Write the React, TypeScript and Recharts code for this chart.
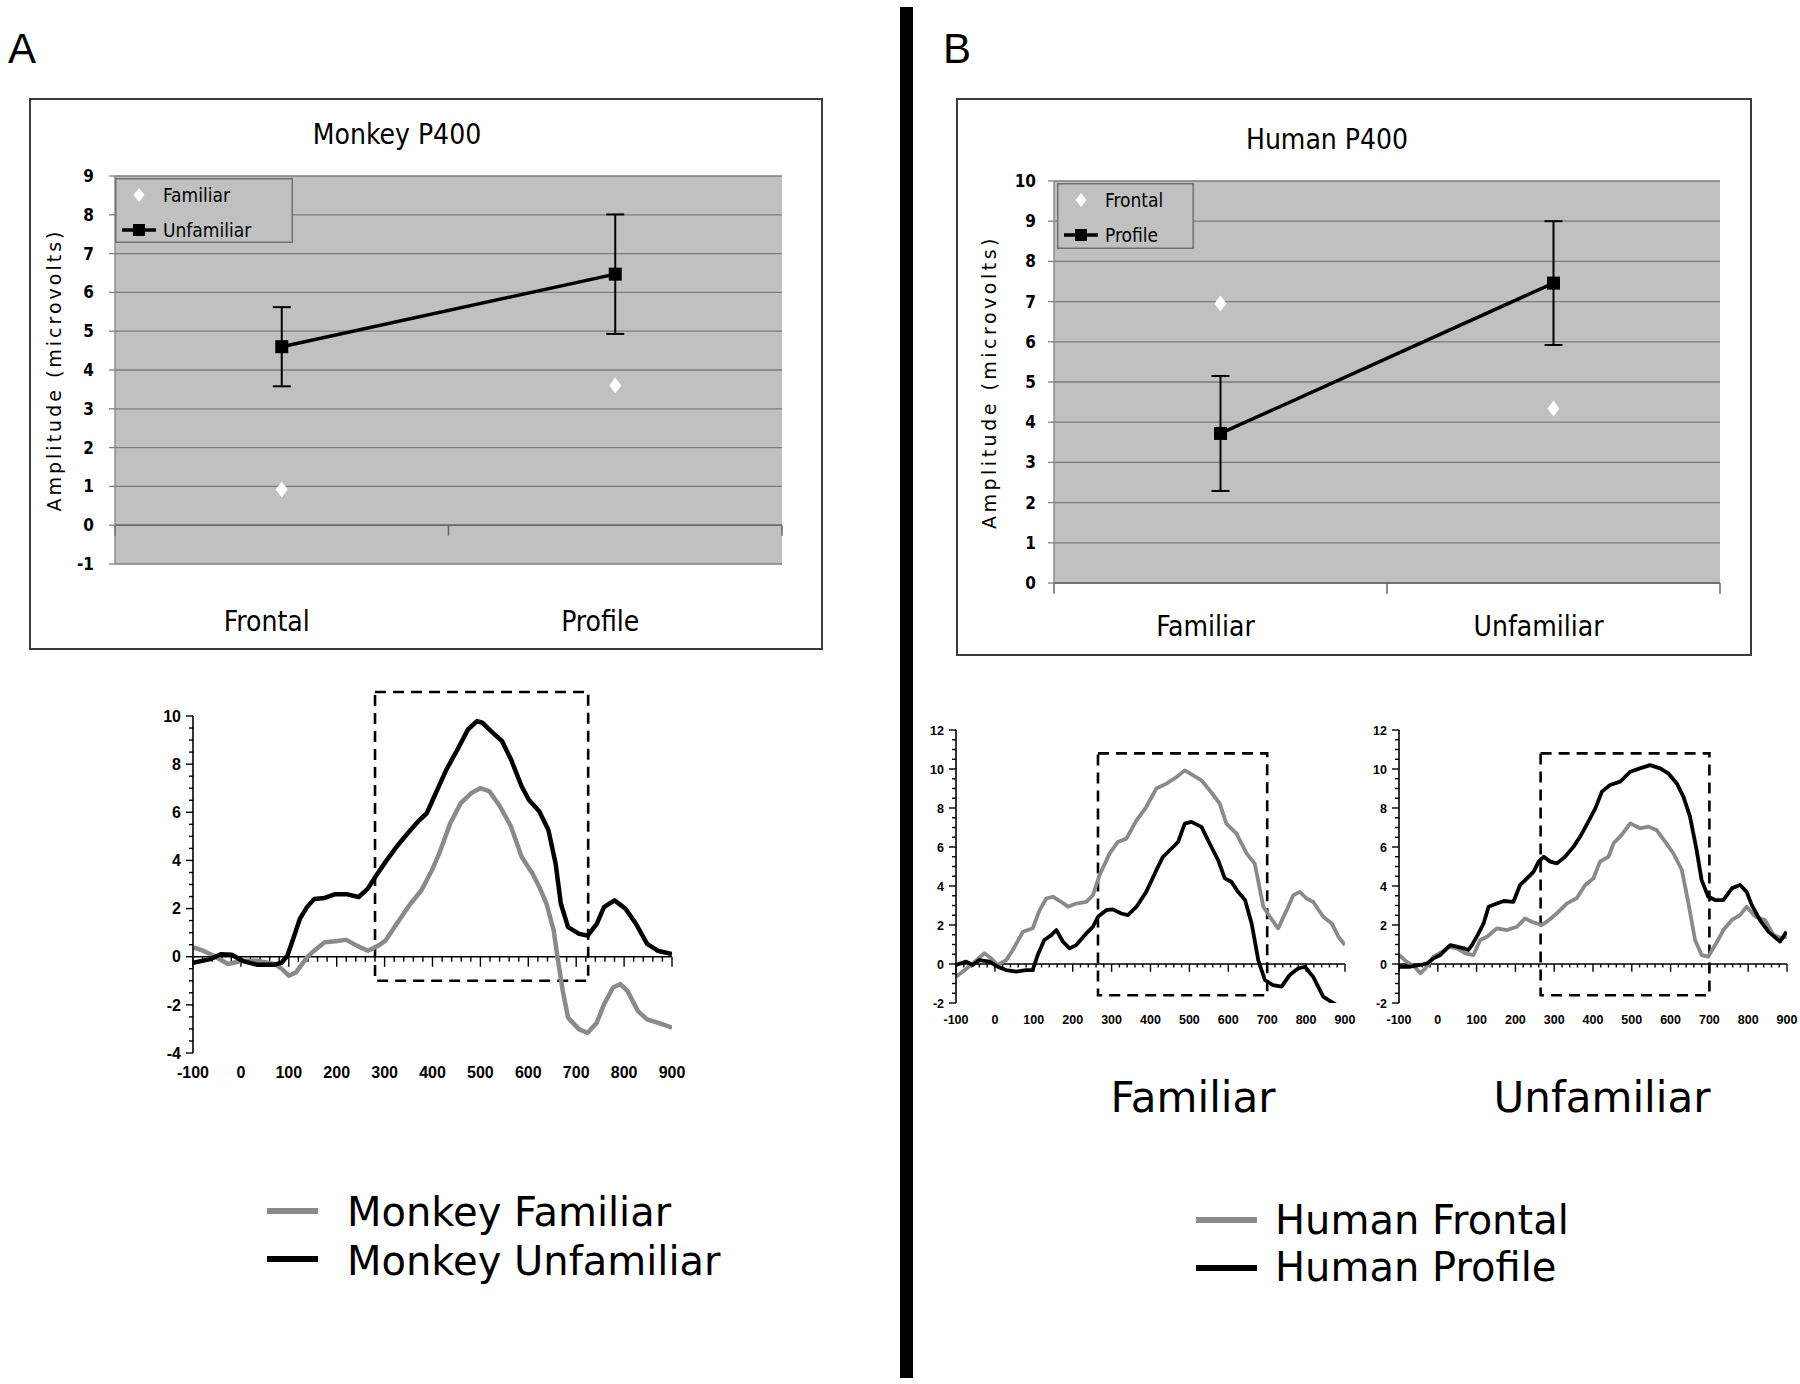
import React from 'react';
import {
  ComposedChart,
  LineChart,
  Line,
  XAxis,
  YAxis,
  CartesianGrid,
  ErrorBar,
  ReferenceLine,
  ReferenceArea,
} from 'recharts';

const excelFont = "'DejaVu Sans Condensed', 'DejaVu Sans', sans-serif";
const verdanaFont = "'DejaVu Sans', Verdana, sans-serif";
const arialFont = "'Liberation Sans', Arial, sans-serif";
const grey = '#8a8a8a';

// P400 summaries (microvolts)
const monkeyConditions = ['Frontal', 'Profile'];
const monkeyFamiliar = [0.92, 3.6];
const monkeyUnfamiliar = [4.6, 6.47];
const monkeyUnfamiliarErr = [1.02, 1.54];
const monkeyAmpTicks = [-1, 0, 1, 2, 3, 4, 5, 6, 7, 8, 9];

const humanConditions = ['Familiar', 'Unfamiliar'];
const humanFrontal = [6.95, 4.34];
const humanProfile = [3.72, 7.46];
const humanProfileErr = [1.43, 1.54];
const humanAmpTicks = [0, 1, 2, 3, 4, 5, 6, 7, 8, 9, 10];

// ERP waveforms, time in ms, amplitude in microvolts
const monkeyFamiliarMs = [-100, -79, -57, -27, 3, 33, 70, 85, 100, 115, 138, 153, 175, 197, 220, 242, 265, 287, 302, 325, 354, 377, 399, 414, 437, 459, 481, 500, 519, 541, 564, 586, 609, 623, 638, 653, 661, 672, 683, 706, 724, 743, 758, 777, 792, 807, 829, 848, 870, 900];
const monkeyFamiliarUv = [0.39, 0.25, 0.04, -0.3, -0.17, -0.17, -0.3, -0.5, -0.79, -0.65, -0.03, 0.25, 0.6, 0.64, 0.7, 0.46, 0.25, 0.46, 0.67, 1.36, 2.2, 2.76, 3.6, 4.29, 5.54, 6.38, 6.8, 7.0, 6.87, 6.24, 5.4, 4.15, 3.45, 2.9, 2.2, 1.09, -0.03, -1.42, -2.53, -3.02, -3.16, -2.74, -1.98, -1.28, -1.14, -1.42, -2.26, -2.6, -2.74, -2.95];
const monkeyUnfamiliarMs = [-100, -64, -42, -19, 3, 33, 70, 85, 97, 108, 123, 138, 153, 175, 197, 220, 246, 265, 280, 302, 325, 347, 369, 388, 407, 429, 452, 474, 493, 504, 526, 545, 564, 586, 601, 623, 642, 657, 668, 683, 706, 724, 743, 758, 780, 803, 825, 848, 870, 900];
const monkeyUnfamiliarUv = [-0.25, -0.1, 0.1, 0.08, -0.17, -0.33, -0.33, -0.25, 0.04, 0.67, 1.57, 2.06, 2.4, 2.44, 2.6, 2.6, 2.48, 2.83, 3.3, 3.94, 4.57, 5.1, 5.6, 5.96, 6.8, 7.77, 8.6, 9.44, 9.79, 9.72, 9.3, 8.96, 8.19, 7.08, 6.52, 6.03, 5.26, 3.87, 2.2, 1.23, 0.95, 0.88, 1.36, 2.06, 2.34, 1.99, 1.36, 0.53, 0.25, 0.11];

const famFrontalMs = [-100, -83, -57, -27, -10, 7, 29, 46, 72, 97, 115, 132, 149, 170, 188, 209, 235, 252, 269, 295, 316, 338, 364, 389, 415, 441, 467, 488, 509, 531, 552, 578, 595, 621, 647, 668, 690, 707, 728, 750, 767, 784, 801, 818, 844, 866, 883, 900];
const famFrontalUv = [-0.65, -0.4, 0.03, 0.55, 0.29, -0.05, 0.2, 0.72, 1.65, 1.83, 2.76, 3.36, 3.45, 3.19, 2.94, 3.1, 3.19, 3.53, 4.56, 5.67, 6.26, 6.43, 7.37, 8.05, 9.0, 9.25, 9.59, 9.93, 9.68, 9.42, 8.91, 8.23, 7.2, 6.69, 5.67, 5.15, 2.94, 2.42, 1.83, 2.76, 3.53, 3.7, 3.36, 3.19, 2.42, 2.08, 1.4, 0.97];
const famProfileMs = [-100, -74, -57, -40, -14, 7, 29, 55, 80, 97, 110, 127, 145, 158, 175, 192, 209, 235, 252, 265, 286, 303, 325, 342, 364, 389, 415, 432, 458, 471, 488, 505, 531, 552, 574, 591, 608, 625, 643, 660, 677, 694, 715, 737, 758, 780, 797, 818, 844, 870, 900];
const famProfileUv = [-0.05, 0.12, -0.05, 0.2, 0.12, -0.14, -0.31, -0.39, -0.31, -0.31, 0.46, 1.23, 1.48, 1.74, 1.14, 0.8, 0.97, 1.57, 1.91, 2.42, 2.76, 2.8, 2.59, 2.51, 2.94, 3.7, 4.81, 5.49, 6.0, 6.26, 7.2, 7.29, 7.03, 6.18, 5.32, 4.39, 4.22, 3.7, 3.28, 2.08, 0.2, -0.82, -1.08, -1.16, -0.56, -0.22, -0.14, -0.65, -1.67, -2.01, -2.35];

const unfFrontalMs = [-100, -81, -60, -45, -32, -11, 11, 28, 49, 71, 92, 109, 127, 152, 178, 204, 225, 242, 268, 281, 307, 333, 358, 380, 401, 418, 440, 453, 474, 496, 521, 543, 564, 586, 607, 629, 646, 663, 680, 697, 715, 736, 758, 779, 796, 818, 843, 865, 886, 899];
const unfFrontalUv = [0.46, 0.12, -0.14, -0.48, -0.22, 0.38, 0.63, 0.89, 0.8, 0.55, 0.46, 1.23, 1.4, 1.83, 1.74, 1.91, 2.34, 2.17, 2.0, 2.17, 2.6, 3.11, 3.37, 4.05, 4.39, 5.25, 5.5, 6.19, 6.62, 7.21, 6.96, 7.04, 6.87, 6.27, 5.68, 4.82, 3.11, 1.23, 0.46, 0.38, 0.97, 1.74, 2.26, 2.51, 2.94, 2.43, 2.26, 1.49, 1.32, 1.4];
const unfProfileMs = [-100, -71, -45, -28, -11, 6, 32, 49, 67, 79, 88, 105, 118, 131, 152, 170, 195, 212, 230, 247, 260, 273, 290, 307, 328, 350, 367, 388, 406, 423, 444, 470, 496, 521, 547, 573, 594, 616, 633, 650, 667, 680, 697, 715, 736, 758, 779, 796, 809, 830, 852, 882, 899];
const unfProfileUv = [-0.14, -0.14, -0.05, 0.03, 0.29, 0.46, 0.97, 0.89, 0.8, 0.72, 0.97, 1.57, 2.08, 2.94, 3.1, 3.23, 3.19, 4.05, 4.39, 4.74, 5.25, 5.5, 5.25, 5.16, 5.5, 6.02, 6.53, 7.3, 7.98, 8.84, 9.18, 9.35, 9.86, 10.03, 10.2, 10.03, 9.78, 9.26, 8.58, 7.56, 5.85, 4.3, 3.45, 3.28, 3.28, 3.88, 4.05, 3.7, 3.03, 2.26, 1.66, 1.15, 1.66];

const erpMsTicks = [-100, 0, 100, 200, 300, 400, 500, 600, 700, 800, 900];
const monkeyUvTicks = [-4, -2, 0, 2, 4, 6, 8, 10];
const humanUvTicks = [-2, 0, 2, 4, 6, 8, 10, 12];

const squareDot = (props: any) => {
  const { cx, cy, index } = props;
  return <rect key={`sq-${index}`} x={cx - 6.5} y={cy - 6.5} width={13} height={13} fill="#000" />;
};

const diamondDot = (props: any) => {
  const { cx, cy, index } = props;
  return (
    <path key={`dm-${index}`} d={`M${cx} ${cy - 8}L${cx + 6} ${cy}L${cx} ${cy + 8}L${cx - 6} ${cy}Z`} fill="#fff" />
  );
};

type Margin = { top: number; right: number; bottom: number; left: number };

type SummaryProps = {
  left: number;
  top: number;
  width: number;
  height: number;
  title: string;
  titleX: number;
  titleY: number;
  categories: string[];
  dots: number[];
  line: number[];
  err: number[];
  dotName: string;
  lineName: string;
  yTicks: number[];
  margin: Margin;
  labelDy: number;
  tickMargin: number;
  yTitleShift: number;
  yTitleSpacing: number;
  legend: { x: number; y: number; w: number; h: number };
};

function SummaryPanel(p: SummaryProps) {
  const data = p.categories.map((name, i) => ({
    x: i + 0.5,
    name,
    dots: p.dots[i],
    line: p.line[i],
    err: p.err[i],
  }));
  const yMin = p.yTicks[0];
  const yMax = p.yTicks[p.yTicks.length - 1];
  const bounds = p.categories.map((_, i) => i).concat(p.categories.length);
  const lg = p.legend;

  return (
    <div style={{ position: 'absolute', left: p.left, top: p.top, width: p.width, height: p.height }}>
      <div style={{ position: 'absolute', inset: 0, border: '2px solid #3c3c3c', boxSizing: 'border-box' }} />
      <ComposedChart width={p.width} height={p.height} data={data} margin={p.margin}>
        <CartesianGrid vertical={false} stroke="#7c7c7c" strokeWidth={1.3} fill="#c0c0c0" fillOpacity={1} />
        <XAxis
          type="number"
          dataKey="x"
          domain={[0, p.categories.length]}
          ticks={data.map((d) => d.x)}
          interval={0}
          axisLine={false}
          tickLine={false}
          tickSize={0}
          tickMargin={0}
          height={30}
          tick={(t: any) => (
            <text
              x={t.x - 15}
              y={t.y + p.labelDy}
              textAnchor="middle"
              fontFamily={excelFont}
              fontSize={28}
              fill="#000"
            >
              {p.categories[Math.floor(t.payload.value)]}
            </text>
          )}
        />
        <YAxis
          type="number"
          domain={[yMin, yMax]}
          ticks={p.yTicks}
          interval={0}
          width={60}
          axisLine={{ stroke: '#808080', strokeWidth: 1.3 }}
          tickLine={{ stroke: '#808080', strokeWidth: 1.3 }}
          tickSize={6}
          tickMargin={p.tickMargin}
          tick={{ fontFamily: excelFont, fontSize: 17, fontWeight: 'bold', fill: '#000' }}
          label={(lp: any) => {
            const vb = lp.viewBox;
            const cx = vb.x + p.yTitleShift;
            const cy = vb.y + vb.height / 2;
            return (
              <text
                x={cx}
                y={cy}
                transform={`rotate(-90 ${cx} ${cy})`}
                textAnchor="middle"
                dominantBaseline="central"
                fontFamily={verdanaFont}
                fontSize={19}
                letterSpacing={p.yTitleSpacing}
                fill="#000"
              >
                Amplitude (microvolts)
              </text>
            );
          }}
        />
        <ReferenceLine y={0} stroke="#666" strokeWidth={1.5} />
        {bounds.map((b) => (
          <ReferenceLine
            key={`b-${b}`}
            segment={[{ x: b, y: 0 }, { x: b, y: -(yMax - yMin) * 0.027 }]}
            stroke="#666"
            strokeWidth={1.5}
            ifOverflow="visible"
          />
        ))}
        <Line
          dataKey="line"
          name={p.lineName}
          stroke="#000"
          strokeWidth={3.5}
          isAnimationActive={false}
          dot={squareDot}
          activeDot={false}
        >
          <ErrorBar dataKey="err" width={9} stroke="#000" strokeWidth={2} direction="y" />
        </Line>
        <Line
          dataKey="dots"
          name={p.dotName}
          stroke="none"
          isAnimationActive={false}
          dot={diamondDot}
          activeDot={false}
        />
      </ComposedChart>
      <div
        style={{
          position: 'absolute',
          left: p.titleX - 200,
          width: 400,
          top: p.titleY - 17,
          height: 34,
          lineHeight: '34px',
          textAlign: 'center',
          fontFamily: excelFont,
          fontSize: 28,
          color: '#000',
        }}
      >
        {p.title}
      </div>
      <svg
        style={{ position: 'absolute', left: lg.x, top: lg.y, overflow: 'visible' }}
        width={lg.w}
        height={lg.h}
      >
        <rect x={0.75} y={0.75} width={lg.w - 1.5} height={lg.h - 1.5} fill="#c0c0c0" stroke="#707070" strokeWidth={1.5} />
        <path d={`M24 10L29.5 17L24 24L18.5 17Z`} fill="#fff" />
        <text x={48} y={17} dominantBaseline="central" fontFamily={excelFont} fontSize={19} fill="#000">
          {p.dotName}
        </text>
        <line x1={7} x2={41} y1={52} y2={52} stroke="#000" strokeWidth={3.5} />
        <rect x={18} y={46} width={12} height={12} fill="#000" />
        <text x={48} y={52} dominantBaseline="central" fontFamily={excelFont} fontSize={19} fill="#000">
          {p.lineName}
        </text>
      </svg>
    </div>
  );
}

type Trace = { name: string; ms: number[]; uv: number[]; color: string };

type ErpProps = {
  left: number;
  top: number;
  width: number;
  height: number;
  margin: Margin;
  yAxisWidth: number;
  uvTicks: number[];
  box: { x1: number; x2: number; y1: number; y2: number };
  traces: Trace[];
  fontSize: number;
  strokeWidth: number;
  xLabelDy: number;
  yLabelGap: number;
  majorLen: number;
  minorLen: number;
};

function ErpChart(p: ErpProps) {
  const uvMin = p.uvTicks[0];
  const uvMax = p.uvTicks[p.uvTicks.length - 1];
  const yTickVals: number[] = [];
  for (let v = uvMin; v <= uvMax + 1e-9; v += 0.5) yTickVals.push(Math.round(v * 10) / 10);
  const xTickVals: number[] = [];
  for (let t = -100; t <= 900; t += 20) xTickVals.push(t);

  const yTick = (props: any) => {
    const { x, y, payload } = props;
    const v = payload.value;
    const major = Math.abs(v % 2) < 1e-9;
    return (
      <g>
        <line x1={x} x2={x - (major ? 7 : 4)} y1={y} y2={y} stroke="#000" strokeWidth={1.4} />
        {major && (
          <text
            x={x - p.yLabelGap}
            y={y + p.fontSize * 0.36}
            textAnchor="end"
            fontFamily={arialFont}
            fontWeight="bold"
            fontSize={p.fontSize}
            fill="#000"
          >
            {v}
          </text>
        )}
      </g>
    );
  };

  return (
    <div style={{ position: 'absolute', left: p.left, top: p.top }}>
      <LineChart width={p.width} height={p.height} margin={p.margin}>
        <XAxis
          type="number"
          dataKey="ms"
          domain={[-100, 900]}
          ticks={erpMsTicks}
          interval={0}
          allowDataOverflow
          axisLine={false}
          tickLine={false}
          tickSize={0}
          tickMargin={0}
          height={30}
          tick={(t: any) => (
            <text
              x={t.x}
              y={t.y + p.xLabelDy}
              textAnchor="middle"
              fontFamily={arialFont}
              fontWeight="bold"
              fontSize={p.fontSize}
              fill="#000"
            >
              {t.payload.value}
            </text>
          )}
        />
        <YAxis
          type="number"
          domain={[uvMin, uvMax]}
          ticks={yTickVals}
          interval={0}
          allowDataOverflow
          width={p.yAxisWidth}
          axisLine={{ stroke: '#000', strokeWidth: 1.6 }}
          tickLine={false}
          tickSize={0}
          tickMargin={0}
          tick={yTick}
        />
        <ReferenceArea
          x1={p.box.x1}
          x2={p.box.x2}
          y1={p.box.y1}
          y2={p.box.y2}
          fill="none"
          fillOpacity={0}
          stroke="#000"
          strokeWidth={2.6}
          strokeDasharray="11 7"
          ifOverflow="visible"
        />
        <ReferenceLine y={0} stroke="#000" strokeWidth={1.6} />
        {xTickVals.map((t) => (
          <ReferenceLine
            key={`xt-${t}`}
            segment={[{ x: t, y: 0 }, { x: t, y: -(t % 100 === 0 ? p.majorLen : p.minorLen) }]}
            stroke="#000"
            strokeWidth={1.4}
            ifOverflow="visible"
          />
        ))}
        {p.traces.map((tr) => (
          <Line
            key={tr.name}
            name={tr.name}
            type="linear"
            data={tr.ms.map((ms, i) => ({ ms, uv: tr.uv[i] }))}
            dataKey="uv"
            stroke={tr.color}
            strokeWidth={p.strokeWidth}
            strokeLinejoin="round"
            dot={false}
            activeDot={false}
            isAnimationActive={false}
          />
        ))}
      </LineChart>
    </div>
  );
}

export default function App() {
  return (
    <div
      style={{
        position: 'absolute',
        left: 0,
        top: 0,
        width: 1800,
        height: 1384,
        background: '#fff',
        overflow: 'hidden',
      }}
    >
      <svg style={{ position: 'absolute', left: 0, top: 0 }} width={1800} height={1384}>
        <rect x={900} y={7} width={13} height={1371} fill="#000" />
        <text x={8} y={63} fontFamily={arialFont} fontSize={42} fill="#000">A</text>
        <text x={943} y={63} fontFamily={arialFont} fontSize={42} fill="#000">B</text>
        <text x={1193} y={1112} textAnchor="middle" fontFamily={verdanaFont} fontSize={42} fill="#000">Familiar</text>
        <text x={1602} y={1112} textAnchor="middle" fontFamily={verdanaFont} fontSize={42} fill="#000">Unfamiliar</text>

        <line x1={267} x2={318} y1={1211} y2={1211} stroke={grey} strokeWidth={6} />
        <line x1={267} x2={318} y1={1259} y2={1259} stroke="#000" strokeWidth={6} />
        <text x={347} y={1226} fontFamily={verdanaFont} fontSize={40} fill="#000">Monkey Familiar</text>
        <text x={347} y={1275} fontFamily={verdanaFont} fontSize={40} fill="#000">Monkey Unfamiliar</text>

        <line x1={1196} x2={1257} y1={1220} y2={1220} stroke={grey} strokeWidth={6} />
        <line x1={1196} x2={1257} y1={1268} y2={1268} stroke="#000" strokeWidth={6} />
        <text x={1275} y={1234} fontFamily={verdanaFont} fontSize={40} fill="#000">Human Frontal</text>
        <text x={1275} y={1281} fontFamily={verdanaFont} fontSize={40} fill="#000">Human Profile</text>
      </svg>

      <SummaryPanel
        left={29}
        top={98}
        width={794}
        height={552}
        title="Monkey P400"
        titleX={368}
        titleY={37}
        categories={monkeyConditions}
        dots={monkeyFamiliar}
        line={monkeyUnfamiliar}
        err={monkeyUnfamiliarErr}
        dotName="Familiar"
        lineName="Unfamiliar"
        yTicks={monkeyAmpTicks}
        margin={{ top: 78, right: 41, bottom: 56, left: 26 }}
        labelDy={67}
        tickMargin={15}
        yTitleShift={-1}
        yTitleSpacing={3}
        legend={{ x: 86, y: 80, w: 178, h: 65 }}
      />

      <SummaryPanel
        left={956}
        top={98}
        width={796}
        height={558}
        title="Human P400"
        titleX={371}
        titleY={42}
        categories={humanConditions}
        dots={humanFrontal}
        line={humanProfile}
        err={humanProfileErr}
        dotName="Frontal"
        lineName="Profile"
        yTicks={humanAmpTicks}
        margin={{ top: 83, right: 32, bottom: 43, left: 38 }}
        labelDy={53}
        tickMargin={12}
        yTitleShift={-5}
        yTitleSpacing={3.5}
        legend={{ x: 101, y: 85, w: 137, h: 66 }}
      />

      <ErpChart
        left={120}
        top={680}
        width={600}
        height={420}
        margin={{ top: 36, right: 48, bottom: 17, left: 23 }}
        yAxisWidth={50}
        uvTicks={monkeyUvTicks}
        box={{ x1: 280, x2: 725, y1: -1, y2: 11 }}
        traces={[
          { name: 'Monkey Familiar', ms: monkeyFamiliarMs, uv: monkeyFamiliarUv, color: grey },
          { name: 'Monkey Unfamiliar', ms: monkeyUnfamiliarMs, uv: monkeyUnfamiliarUv, color: '#000' },
        ]}
        fontSize={16}
        strokeWidth={4.5}
        xLabelDy={25}
        yLabelGap={12}
        majorLen={0.42}
        minorLen={0.21}
      />

      <ErpChart
        left={916}
        top={700}
        width={450}
        height={350}
        margin={{ top: 30, right: 21, bottom: 17, left: 0 }}
        yAxisWidth={40}
        uvTicks={humanUvTicks}
        box={{ x1: 265, x2: 700, y1: -1.6, y2: 10.8 }}
        traces={[
          { name: 'Familiar Frontal', ms: famFrontalMs, uv: famFrontalUv, color: grey },
          { name: 'Familiar Profile', ms: famProfileMs, uv: famProfileUv, color: '#000' },
        ]}
        fontSize={12.5}
        strokeWidth={3.8}
        xLabelDy={21}
        yLabelGap={12}
        majorLen={0.4}
        minorLen={0.18}
      />

      <ErpChart
        left={1359}
        top={700}
        width={441}
        height={350}
        margin={{ top: 30, right: 13, bottom: 17, left: 0 }}
        yAxisWidth={40}
        uvTicks={humanUvTicks}
        box={{ x1: 265, x2: 700, y1: -1.6, y2: 10.8 }}
        traces={[
          { name: 'Unfamiliar Frontal', ms: unfFrontalMs, uv: unfFrontalUv, color: grey },
          { name: 'Unfamiliar Profile', ms: unfProfileMs, uv: unfProfileUv, color: '#000' },
        ]}
        fontSize={12.5}
        strokeWidth={3.8}
        xLabelDy={21}
        yLabelGap={12}
        majorLen={0.4}
        minorLen={0.18}
      />
    </div>
  );
}
